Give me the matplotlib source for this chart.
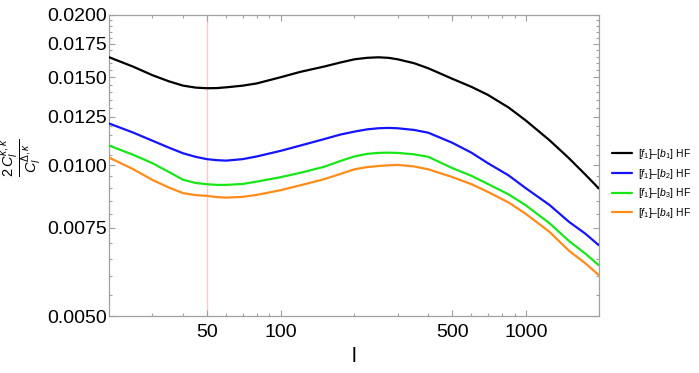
import matplotlib
matplotlib.use("Agg")
import matplotlib.pyplot as plt
from matplotlib.ticker import FixedLocator, NullFormatter

plt.rcParams['font.family'] = ['Liberation Sans', 'DejaVu Sans']
plt.rcParams['mathtext.fontset'] = 'custom'
plt.rcParams['mathtext.rm'] = 'Liberation Sans'
plt.rcParams['mathtext.it'] = 'Liberation Sans:italic'
plt.rcParams['mathtext.bf'] = 'Liberation Sans:bold'

# multipole l
ell = [20, 25, 30, 35, 40, 45, 50, 55, 60, 70, 80, 100, 120, 150, 175, 200, 225, 250, 275,
       300, 350, 400, 500, 600, 700, 850, 1000, 1250, 1500, 1750, 1980]

b1 = [0.01644, 0.01575, 0.01514, 0.01472, 0.01443, 0.01430, 0.01426, 0.01427, 0.01432,
      0.01443, 0.01458, 0.01500, 0.01537, 0.01575, 0.01605, 0.01629, 0.01640, 0.01644,
      0.01640, 0.01629, 0.01600, 0.01563, 0.01490, 0.01435, 0.01383, 0.01305, 0.01229,
      0.01122, 0.01033, 0.00958, 0.00900]
b2 = [0.01212, 0.01163, 0.01120, 0.01085, 0.01057, 0.01040, 0.01029, 0.01024, 0.01022,
      0.01029, 0.01042, 0.01069, 0.01095, 0.01128, 0.01152, 0.01168, 0.01180, 0.01186,
      0.01188, 0.01186, 0.01177, 0.01162, 0.01110, 0.01060, 0.01010, 0.00955, 0.00900,
      0.00833, 0.00771, 0.00730, 0.00693]
b3 = [0.01095, 0.01050, 0.01010, 0.00970, 0.00936, 0.00922, 0.00917, 0.00914, 0.00914,
      0.00918, 0.00928, 0.00947, 0.00966, 0.00993, 0.01020, 0.01042, 0.01054, 0.01059,
      0.01060, 0.01059, 0.01052, 0.01040, 0.00988, 0.00953, 0.00918, 0.00875, 0.00832,
      0.00766, 0.00706, 0.00666, 0.00632]
b4 = [0.01036, 0.00983, 0.00935, 0.00903, 0.00880, 0.00872, 0.00869, 0.00864, 0.00862,
      0.00865, 0.00873, 0.00892, 0.00912, 0.00938, 0.00961, 0.00982, 0.00992, 0.00997,
      0.01000, 0.01002, 0.00995, 0.00982, 0.00948, 0.00917, 0.00885, 0.00843, 0.00800,
      0.00736, 0.00675, 0.00637, 0.00604]

series = [b1, b2, b3, b4]
labels = [r'$[f_1]$–$[b_1]$ HF', r'$[f_1]$–$[b_2]$ HF', r'$[f_1]$–$[b_3]$ HF', r'$[f_1]$–$[b_4]$ HF']
colors = ['#000000', '#1414ff', '#19e619', '#ff8c1a']

x_major = [50, 100, 500, 1000]
x_major_labels = ['50', '100', '500', '1000']
x_minor = [30, 40, 60, 70, 80, 90, 200, 300, 400, 600, 700, 800, 900]
y_major = [0.0050, 0.0075, 0.0100, 0.0125, 0.0150, 0.0175, 0.0200]
y_major_labels = ['0.0050', '0.0075', '0.0100', '0.0125', '0.0150', '0.0175', '0.0200']
y_minor = [0.0055, 0.0060, 0.0065, 0.0070, 0.0080, 0.0085, 0.0090, 0.0095,
           0.0105, 0.0110, 0.0115, 0.0120, 0.0130, 0.0135, 0.0140, 0.0145,
           0.0155, 0.0160, 0.0165, 0.0170, 0.0180, 0.0185, 0.0190, 0.0195]
vline_l = 50

fig = plt.figure(figsize=(6.99, 3.73), dpi=100)
ax = fig.add_axes([109.3/699, 57/373, (598.6-109.3)/699, (316-14.7)/373])

ax.axvline(vline_l, color='#ffc8c8', lw=1.0, zorder=1)
for s, lab, c in zip(series, labels, colors):
    ax.plot(ell, s, color=c, lw=1.6, label=lab, zorder=3,
            solid_joinstyle='round', solid_capstyle='round')

ax.set_xscale('log')
ax.set_yscale('log')
ax.set_xlim(20, 1980)
ax.set_ylim(0.005, 0.02)

ax.xaxis.set_major_locator(FixedLocator(x_major))
ax.set_xticklabels(x_major_labels)
ax.xaxis.set_minor_locator(FixedLocator(x_minor))
ax.xaxis.set_minor_formatter(NullFormatter())
ax.yaxis.set_major_locator(FixedLocator(y_major))
ax.set_yticklabels(y_major_labels)
ax.yaxis.set_minor_locator(FixedLocator(y_minor))
ax.yaxis.set_minor_formatter(NullFormatter())

for sp in ax.spines.values():
    sp.set_color('#a0a0a0')
    sp.set_linewidth(0.9)

ax.tick_params(which='both', direction='in', top=True, right=True, color='#a0a0a0', width=0.8)
ax.tick_params(which='major', length=4.5)
ax.tick_params(which='minor', length=2.5)
ax.tick_params(axis='x', which='major', labelsize=14, pad=6)
ax.tick_params(axis='y', which='major', labelsize=14, pad=2)

ax.set_xlabel('l', fontsize=15, labelpad=4)
fig.text(21/699, 1 - 158/373, r'$\dfrac{2\,C_l^{\kappa,\kappa}}{C_l^{\Delta,\kappa}}$',
         fontsize=10.5, rotation=90, ha='center', va='center')

leg = ax.legend(loc='center left', bbox_to_anchor=(1.027, 0.44), frameon=False,
                fontsize=7.5, handlelength=1.9, handletextpad=0.6, labelspacing=0.55,
                borderpad=0, borderaxespad=0)

fig.savefig('out.png', dpi=100)
